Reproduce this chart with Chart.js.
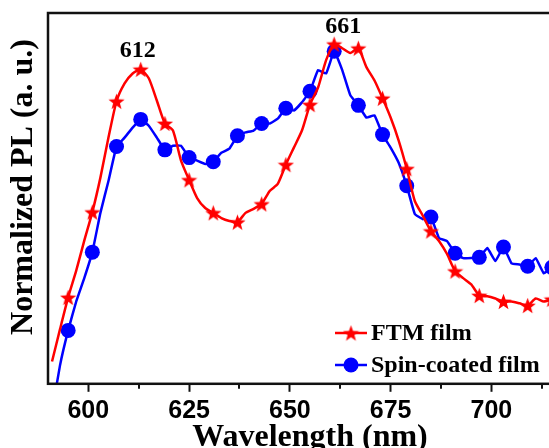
<!DOCTYPE html>
<html>
<head>
<meta charset="utf-8">
<script src="https://cdn.jsdelivr.net/npm/chart.js@4"></script>
<style>
html, body { margin: 0; padding: 0; overflow: hidden; background: #fff; }
#wrap { width: 590px; height: 448px; }
</style>
</head>
<body>
<div id="wrap"><canvas id="c"></canvas></div>
<script>
const wavelength = [591, 593, 595, 597, 599, 601, 603, 605, 607, 609, 611, 613, 615, 617, 619, 621,
  623, 625, 627, 629, 631, 633, 635, 637, 639, 641, 643, 645, 647, 649, 651, 653,
  655, 657, 659, 661, 663, 665, 667, 669, 671, 673, 675, 677, 679, 681, 683, 685,
  687, 689, 691, 693, 695, 697, 699, 701, 703, 705, 707, 709, 711, 713, 715, 717]

const ftmFilm = [0.060, 0.148, 0.233, 0.305, 0.386, 0.463, 0.556, 0.664, 0.762, 0.810, 0.837, 0.848, 0.824, 0.764, 0.702, 0.683,
  0.602, 0.550, 0.501, 0.474, 0.461, 0.447, 0.439, 0.436, 0.461, 0.472, 0.485, 0.520, 0.539, 0.591, 0.637, 0.683,
  0.753, 0.799, 0.873, 0.916, 0.905, 0.892, 0.905, 0.854, 0.818, 0.770, 0.718, 0.656, 0.580, 0.493, 0.453, 0.412,
  0.385, 0.350, 0.304, 0.285, 0.268, 0.238, 0.236, 0.230, 0.222, 0.222, 0.217, 0.211, 0.230, 0.222, 0.228, 0.233]

const spinCoatedFilm = [-0.076, 0.051, 0.144, 0.222, 0.285, 0.355, 0.461, 0.547, 0.640, 0.664, 0.691, 0.713, 0.696, 0.664, 0.631, 0.642,
  0.642, 0.610, 0.602, 0.593, 0.599, 0.623, 0.634, 0.669, 0.678, 0.683, 0.702, 0.702, 0.715, 0.743, 0.737, 0.759,
  0.789, 0.846, 0.837, 0.897, 0.846, 0.778, 0.751, 0.718, 0.724, 0.672, 0.637, 0.596, 0.534, 0.458, 0.444, 0.450,
  0.393, 0.385, 0.352, 0.339, 0.339, 0.341, 0.366, 0.331, 0.369, 0.325, 0.322, 0.317, 0.339, 0.298, 0.314, 0.309]

const xTicks = [600, 625, 650, 675, 700]
const xMinorTicks = [612.5, 637.5, 662.5, 687.5, 712.5]
const peakLabels = ['612', '661']
const seriesNames = ['FTM film', 'Spin-coated film']
const yTitle = 'Normalized PL (a. u.)'

const RED = '#ff0000'
const BLUE = '#0000ff'
const SERIF = '"Liberation Serif", "Times New Roman", serif'

// filled five point star used as marker
function starImage(size, color) {
  const c = document.createElement('canvas')
  c.width = size
  c.height = size
  const g = c.getContext('2d')
  const r = size / 2, ri = r * 0.42
  g.beginPath()
  for (let k = 0; k < 10; k++) {
    const a = -Math.PI / 2 + k * Math.PI / 5
    const rr = k % 2 ? ri : r
    g.lineTo(r + rr * Math.cos(a), r + 0.8 + rr * Math.sin(a))
  }
  g.closePath()
  g.fillStyle = color
  g.fill()
  return c
}
const star = starImage(17, RED)

const markerRadius = ctx => (ctx.dataIndex % 3 === 2 ? 7.5 : 0)

const extras = {
  id: 'extras',
  afterDatasetsDraw(chart) {
    const { ctx, chartArea: a, scales: { x, y } } = chart
    ctx.save()
    // frame
    ctx.strokeStyle = '#111'
    ctx.lineWidth = 2.5
    ctx.strokeRect(a.left, a.top, a.right - a.left, a.bottom - a.top)

    // minor ticks, shorter than the major ones
    ctx.lineWidth = 2
    xMinorTicks.forEach(v => {
      const px = Math.round(x.getPixelForValue(v))
      ctx.beginPath()
      ctx.moveTo(px, a.bottom)
      ctx.lineTo(px, a.bottom + 5)
      ctx.stroke()
    })

    // y title (sits a bit above the middle of the axis)
    ctx.fillStyle = '#000'
    ctx.font = 'bold 32px ' + SERIF
    ctx.textAlign = 'center'
    ctx.textBaseline = 'middle'
    ctx.save()
    ctx.translate(24, 187)
    ctx.rotate(-Math.PI / 2)
    ctx.fillText(yTitle, 0, 0)
    ctx.restore()

    // peak labels
    ctx.font = 'bold 24px ' + SERIF
    ctx.textBaseline = 'alphabetic'
    const offs = [[1, 12], [9, 11]]
    peakLabels.forEach((t, i) => {
      const w = Number(t)
      const idx = wavelength.indexOf(w % 2 ? w : w + 1)
      const px = x.getPixelForValue(w) + offs[i][0]
      const py = y.getPixelForValue(ftmFilm[idx]) - offs[i][1]
      ctx.fillText(t, px, py)
    })

    // legend
    const rows = [333, 365]
    ctx.textAlign = 'left'
    ctx.textBaseline = 'middle'
    rows.forEach((ry, i) => {
      ctx.strokeStyle = i === 0 ? RED : BLUE
      ctx.lineWidth = 2.5
      ctx.beginPath()
      ctx.moveTo(335, ry)
      ctx.lineTo(367, ry)
      ctx.stroke()
      if (i === 0) {
        ctx.drawImage(star, 351 - star.width / 2, ry - star.height / 2)
      } else {
        ctx.fillStyle = BLUE
        ctx.beginPath()
        ctx.arc(351, ry, 7.5, 0, Math.PI * 2)
        ctx.fill()
      }
      ctx.fillStyle = '#000'
      ctx.font = 'bold 24px ' + SERIF
      ctx.fillText(seriesNames[i], 371, ry + 1)
    })
    ctx.restore()
  }
}

const ctx = document.getElementById('c').getContext('2d')
const chart = new Chart(ctx, {
  type: 'line',
  data: {
    datasets: [
      {
        label: seriesNames[0],
        data: wavelength.map((w, i) => ({ x: w, y: ftmFilm[i] })),
        borderColor: RED,
        backgroundColor: RED,
        borderWidth: 2.5,
        pointStyle: star,
        pointRadius: markerRadius,
        tension: 0.2,
      },
      {
        label: seriesNames[1],
        data: wavelength.map((w, i) => ({ x: w, y: spinCoatedFilm[i] })),
        borderColor: BLUE,
        backgroundColor: BLUE,
        borderWidth: 2.5,
        pointStyle: 'circle',
        pointRadius: markerRadius,
        pointBorderWidth: 0,
        tension: 0.1,
      },
    ],
  },
  options: {
    animation: false,
    responsive: true,
    maintainAspectRatio: false,
    layout: { padding: { left: 48, top: 13, right: 18, bottom: 7 } },
    plugins: {
      legend: { display: false },
      tooltip: { enabled: false },
    },
    scales: {
      x: {
        type: 'linear',
        min: 590,
        max: 720,
        afterBuildTicks: scale => { scale.ticks = xTicks.map(v => ({ value: v })) },
        ticks: {
          color: '#000',
          padding: 7,
          maxRotation: 0,
          autoSkip: false,
          font: { family: '"Liberation Sans", Arial, sans-serif', size: 25, weight: 'bold', lineHeight: 1.0 },
        },
        grid: { drawOnChartArea: false, drawTicks: true, tickLength: 8, tickColor: '#111', tickWidth: 2 },
        border: { display: false },
        title: {
          display: true,
          text: 'Wavelength (nm)',
          color: '#000',
          padding: { top: 5, bottom: 2 },
          font: { family: SERIF, size: 32, weight: 'bold', lineHeight: 0.1 },
        },
      },
      y: {
        min: 0,
        max: 1,
        ticks: { display: false },
        grid: { display: false, drawTicks: false },
        border: { display: false },
        title: { display: false },
      },
    },
  },
  plugins: [extras],
})
</script>
</body>
</html>
